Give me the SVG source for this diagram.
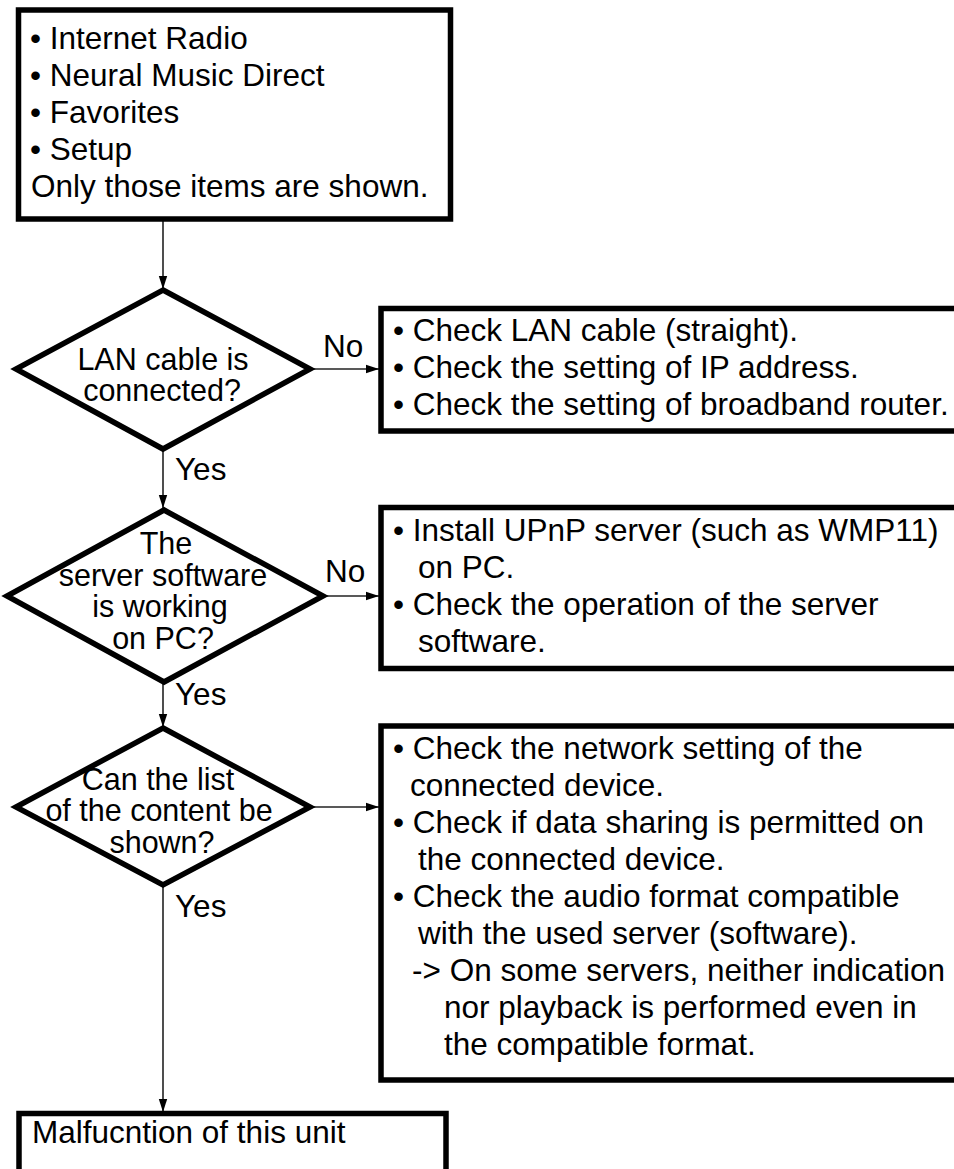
<svg xmlns="http://www.w3.org/2000/svg" width="954" height="1169" viewBox="0 0 954 1169">
<style>
text{font-family:"Liberation Sans",Arial,sans-serif;font-size:31.5px;fill:#000}
.c{text-anchor:middle;font-size:30.5px}
.box{fill:#fff;stroke:#000;stroke-width:5.5}
.dia{fill:#fff;stroke:#000;stroke-width:5.5;stroke-linejoin:miter}
.conn{stroke:#222;stroke-width:1.6;fill:none}
</style>
<defs>
<marker id="ah" markerUnits="userSpaceOnUse" markerWidth="14" markerHeight="10" refX="13" refY="5" orient="auto">
<path d="M0,0.8 L13,5 L0,9.2 z" fill="#000"/>
</marker>
</defs>
<rect width="954" height="1169" fill="#fff"/>
<g id="connectors">
<line class="conn" x1="163" y1="221" x2="163" y2="289" marker-end="url(#ah)"/>
<line class="conn" x1="310" y1="369" x2="379" y2="369" marker-end="url(#ah)"/>
<line class="conn" x1="163" y1="449" x2="163" y2="508" marker-end="url(#ah)"/>
<line class="conn" x1="323" y1="596" x2="379" y2="596" marker-end="url(#ah)"/>
<line class="conn" x1="163" y1="682" x2="163" y2="727" marker-end="url(#ah)"/>
<line class="conn" x1="310" y1="807" x2="379" y2="807" marker-end="url(#ah)"/>
<line class="conn" x1="163" y1="885" x2="163" y2="1112" marker-end="url(#ah)"/>
<text x="323" y="357">No</text>
<text x="325" y="582">No</text>
<text x="175" y="480">Yes</text>
<text x="175" y="705">Yes</text>
<text x="175" y="917">Yes</text>
</g>
<g id="start">
<rect class="box" x="18.5" y="10" width="432" height="209"/>
<text x="30" y="49">• Internet Radio</text>
<text x="30" y="86">• Neural Music Direct</text>
<text x="30" y="123">• Favorites</text>
<text x="30" y="160">• Setup</text>
<text x="31" y="197">Only those items are shown.</text>
</g>
<g id="q1">
<polygon class="dia" points="163,290 310,369 163,449 16,369"/>
<text class="c" x="163" y="370">LAN cable is</text>
<text class="c" x="162" y="401">connected?</text>
</g>
<g id="a1">
<rect class="box" x="381" y="308.5" width="600" height="122.5"/>
<text x="393" y="341">• Check LAN cable (straight).</text>
<text x="393" y="378">• Check the setting of IP address.</text>
<text x="393" y="415">• Check the setting of broadband router.</text>
</g>
<g id="q2">
<polygon class="dia" points="164,510 323,596 164,682 7,596"/>
<text class="c" x="166" y="554">The</text>
<text class="c" x="163" y="586">server software</text>
<text class="c" x="160" y="617">is working</text>
<text class="c" x="163" y="649">on PC?</text>
</g>
<g id="a2">
<rect class="box" x="381" y="507.5" width="600" height="161"/>
<text x="393" y="541">• Install UPnP server (such as WMP11)</text>
<text x="418" y="578">on PC.</text>
<text x="393" y="615">• Check the operation of the server</text>
<text x="418" y="652">software.</text>
</g>
<g id="q3">
<polygon class="dia" points="163,728 310,807 163,885 16,807"/>
<text class="c" x="158" y="790">Can the list</text>
<text class="c" x="159" y="821">of the content be</text>
<text class="c" x="162" y="853">shown?</text>
</g>
<g id="a3">
<rect class="box" x="381" y="726" width="600" height="354"/>
<text x="393" y="759">• Check the network setting of the</text>
<text x="410" y="796">connected device.</text>
<text x="393" y="833">• Check if data sharing is permitted on</text>
<text x="418" y="870">the connected device.</text>
<text x="393" y="907">• Check the audio format compatible</text>
<text x="418" y="944">with the used server (software).</text>
<text x="412" y="981">-&gt; On some servers, neither indication</text>
<text x="444" y="1018">nor playback is performed even in</text>
<text x="444" y="1055">the compatible format.</text>
</g>
<g id="end">
<rect class="box" x="19" y="1113.5" width="427" height="80"/>
<text x="32" y="1143">Malfucntion of this unit</text>
</g>
</svg>
